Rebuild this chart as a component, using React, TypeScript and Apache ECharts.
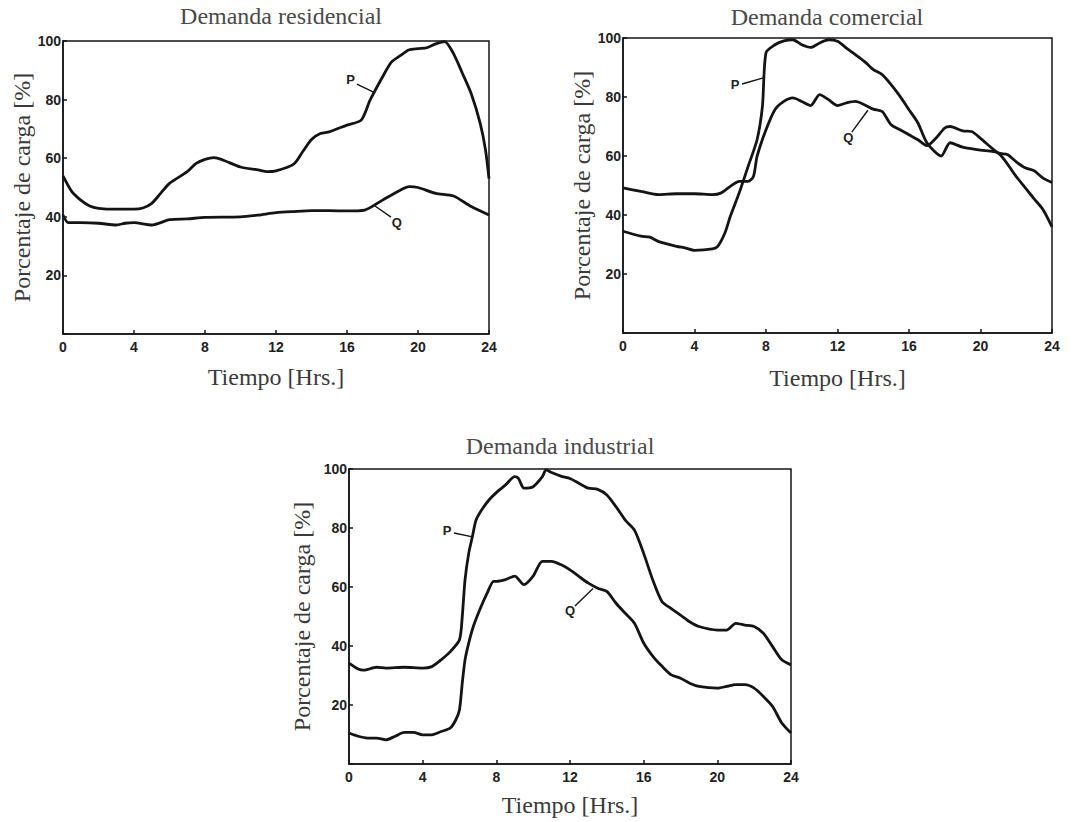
import { useEffect, useRef } from 'react';
import * as echarts from 'echarts';

const panelTitles = ['Demanda residencial', 'Demanda comercial', 'Demanda industrial'];
const xAxisTitle = 'Tiempo [Hrs.]';
const yAxisTitle = 'Porcentaje de carga [%]';
const xTickValues = [0, 4, 8, 12, 16, 20, 24];
const yTickValues = [20, 40, 60, 80, 100];

// Residential
const resPHours = [0, 0.5, 1, 1.5, 2, 3, 4, 4.5, 5, 5.5, 6, 7, 7.5, 8, 8.5, 9, 10, 11, 11.5, 12, 13, 13.5, 14, 14.5, 15, 16, 16.8, 17.3, 18, 18.5, 19, 19.5, 20, 20.5, 21, 21.5, 22, 22.5, 23, 23.5, 23.8, 24];
const resPValues = [54, 48.6, 45.7, 43.7, 42.9, 42.6, 42.6, 43, 44.6, 48, 51.4, 55.4, 58.2, 59.6, 60.2, 59.4, 57, 56, 55.4, 55.7, 58, 62.2, 66.4, 68.4, 69, 71.3, 73, 79.8, 87.7, 92.8, 95, 97, 97.4, 97.7, 99, 99.8, 95.7, 89, 82, 72, 63, 53];
const resQHours = [0, 0.3, 1, 2, 3, 3.5, 4, 5, 6, 7, 8, 10, 11, 12, 13, 14, 15, 16, 17, 18, 19, 19.5, 20, 21, 22, 23, 24];
const resQValues = [40.6, 38, 38, 37.8, 37.2, 37.8, 38, 37.2, 39, 39.3, 39.8, 40, 40.6, 41.4, 41.8, 42.1, 42.1, 42, 42.3, 45.7, 49.1, 50.3, 50, 48, 47.1, 43.5, 40.6];

// Commercial
const comPHours = [0, 1, 1.5, 2, 3, 3.5, 4, 5, 5.3, 5.7, 6, 6.5, 7, 7.5, 7.8, 8, 8.5, 9, 9.5, 10, 10.5, 11, 11.5, 12, 12.5, 13, 13.5, 14, 14.5, 15, 15.5, 16, 16.5, 17, 17.8, 18.3, 19, 20, 21, 22, 23, 23.5, 24];
const comPValues = [34.5, 32.8, 32.5, 31, 29.4, 28.8, 28, 28.5, 29.4, 33.9, 39.5, 47.5, 56.5, 65.5, 76.8, 95, 97.7, 99, 99.4, 97.7, 96.8, 98.3, 99.4, 98.9, 96.6, 94.4, 92.1, 89.3, 87.6, 84.2, 80.2, 75.7, 71.2, 64.5, 60, 64.5, 63, 62, 61, 53, 45.5, 41.8, 36];
const comQHours = [0, 1, 2, 3, 4, 5, 5.5, 6, 6.5, 7, 7.3, 7.5, 8, 8.5, 9, 9.5, 10, 10.5, 11, 11.5, 12, 12.5, 13, 13.5, 14, 14.5, 15, 15.5, 16, 16.5, 17, 17.5, 18, 18.3, 19, 19.5, 20, 21, 21.5, 22, 22.5, 23, 23.5, 24];
const comQValues = [49.2, 48, 46.9, 47.2, 47.2, 46.9, 47.5, 49.7, 51.4, 51.4, 53.1, 59.9, 68.9, 75.7, 78.5, 79.7, 78.5, 77.1, 80.8, 79.1, 77.1, 78, 78.5, 77.4, 75.9, 75.1, 70.6, 68.9, 67.2, 65.5, 63.5, 66, 69.5, 70, 68.5, 68.3, 66, 61, 60.5, 58, 56, 55, 52.5, 51];

// Industrial
const indPHours = [0, 0.5, 0.8, 1.5, 2, 3, 4, 4.5, 5, 5.5, 6, 6.15, 6.3, 6.5, 6.7, 6.9, 7.2, 7.6, 8, 8.5, 9, 9.2, 9.5, 10, 10.5, 10.7, 11, 11.5, 12, 12.5, 13, 13.5, 14, 14.5, 15, 15.5, 16, 16.5, 17, 17.5, 18, 18.5, 19, 20, 20.5, 21, 21.5, 22, 22.5, 23, 23.5, 24];
const indPValues = [34.2, 32.2, 31.8, 32.8, 32.5, 32.8, 32.5, 33, 35.3, 38.1, 42.1, 50, 62.4, 71.4, 77.1, 82.7, 86.1, 89.5, 92, 94.6, 97.4, 96.8, 93.5, 94, 97.4, 99.7, 98.8, 97.6, 96.8, 95.1, 93.5, 93.1, 91.2, 87.2, 82.7, 79.3, 71.4, 62.3, 55, 52.7, 50.5, 48.2, 46.6, 45.4, 45.4, 47.7, 47.1, 46.6, 44.3, 39.8, 35.3, 33.6];
const indQHours = [0, 0.5, 1, 1.5, 2, 2.5, 3, 3.5, 4, 4.5, 5, 5.5, 5.8, 6, 6.15, 6.3, 6.5, 6.75, 7.1, 7.5, 7.85, 8, 8.5, 9, 9.5, 10, 10.5, 11, 11.5, 12, 12.5, 13, 13.5, 14, 14.5, 15, 15.5, 16, 16.5, 17, 17.5, 18, 18.5, 19, 20, 20.5, 21, 21.5, 22, 22.5, 23, 23.5, 24];
const indQValues = [10.5, 9.4, 8.8, 8.8, 8.2, 9.4, 10.7, 10.7, 9.9, 9.9, 11, 12.2, 15, 18.4, 27.4, 35.3, 41, 46.6, 52.3, 57.9, 61.9, 61.9, 62.5, 63.7, 60.8, 63.7, 68.7, 68.7, 67.6, 65.8, 63.5, 61.3, 59.6, 58.5, 54.5, 51.1, 47.7, 41, 36.5, 33.1, 30.2, 29.1, 27.4, 26.3, 25.7, 26.3, 26.9, 26.9, 25.7, 22.9, 19.5, 13.9, 10.5];

// Curve labels (data units)
const curveLabelPanels = [0, 0, 1, 1, 2, 2];
const curveLabelTexts = ['P', 'Q', 'P', 'Q', 'P', 'Q'];
const curveLabelAt = [[16.2, 86.7], [18.8, 38.2], [6.27, 84.4], [12.6, 66.4], [5.32, 79.3], [12.0, 52.2]];
const curveLeaderFrom = [[16.56, 85.3], [18.48, 39.9], [6.66, 84.4], [12.8, 68.1], [5.7, 78.3], [12.27, 53.6]];
const curveLeaderTo = [[17.58, 82.3], [17.58, 43.7], [7.85, 86.5], [13.7, 75.5], [6.71, 77.0], [13.25, 59.5]];

const grids = [
  { left: 63, top: 41, width: 426, height: 293 },
  { left: 623, top: 38, width: 429, height: 295 },
  { left: 349, top: 469, width: 442, height: 295 },
];
const titlePos = [[281, 17], [827, 18], [560, 447]];
const xNameGap = [31, 33, 29];
const yNameGap = [28, 29, 35];

const zip = (h: number[], v: number[]) => h.map((x, i) => [x, v[i]]);
const seriesData = [
  [zip(resPHours, resPValues), zip(resQHours, resQValues)],
  [zip(comPHours, comPValues), zip(comQHours, comQValues)],
  [zip(indPHours, indPValues), zip(indQHours, indQValues)],
];

const SERIF = '"Liberation Serif", "DejaVu Serif", serif';
const SANS = '"Liberation Sans", Arial, sans-serif';
const TITLE = '#4a4a4a';
const TEXT = '#3a3a3a';
const INK = '#141414';
const FS = 24;

export default function App() {
  const ref = useRef<HTMLDivElement>(null);
  useEffect(() => {
    if (!ref.current) return;
    const chart = echarts.init(ref.current, undefined, { renderer: 'svg' });
    const option: any = {
      animation: false,
      backgroundColor: '#ffffff',
      title: panelTitles.map((t, i) => ({
        text: t,
        left: titlePos[i][0],
        top: titlePos[i][1] - FS / 2 - 1,
        textAlign: 'center',
        padding: 0,
        textStyle: { fontFamily: SERIF, fontSize: FS, fontWeight: 'normal', color: TITLE },
      })),
      grid: grids.map((g) => ({ ...g, show: true, borderColor: INK, borderWidth: 1.5, backgroundColor: 'transparent' })),
      xAxis: grids.map((_, i) => ({
        type: 'value',
        gridIndex: i,
        min: xTickValues[0],
        max: xTickValues[xTickValues.length - 1],
        interval: 4,
        name: xAxisTitle,
        nameLocation: 'middle',
        nameGap: xNameGap[i],
        nameTextStyle: { fontFamily: SERIF, fontSize: FS, color: TEXT },
        splitLine: { show: false },
        axisLine: { show: true, lineStyle: { color: INK, width: 1.5 } },
        axisTick: { show: true, inside: true, length: 4, lineStyle: { color: INK, width: 1.5 } },
        axisLabel: { fontFamily: SANS, fontWeight: 'bold', fontSize: 14, color: '#222', margin: 6 },
      })),
      yAxis: grids.map((_, i) => ({
        type: 'value',
        gridIndex: i,
        min: 0,
        max: yTickValues[yTickValues.length - 1],
        interval: 20,
        name: yAxisTitle,
        nameLocation: 'middle',
        nameGap: yNameGap[i],
        nameTextStyle: { fontFamily: SERIF, fontSize: FS, color: TEXT },
        splitLine: { show: false },
        axisLine: { show: true, lineStyle: { color: INK, width: 1.5 } },
        axisTick: { show: true, inside: true, length: 4, lineStyle: { color: INK, width: 1.5 } },
        axisLabel: {
          fontFamily: SANS,
          fontWeight: 'bold',
          fontSize: 14,
          color: '#222',
          margin: 2,
          formatter: (v: number) => (yTickValues.includes(v) ? String(v) : ''),
        },
      })),
      series: seriesData.flatMap((pair, i) =>
        pair.map((d, j) => ({
          type: 'line',
          name: `${panelTitles[i]} ${j === 0 ? 'P' : 'Q'}`,
          xAxisIndex: i,
          yAxisIndex: i,
          data: d,
          smooth: 0.25,
          showSymbol: false,
          lineStyle: { color: INK, width: 2.8 },
        }))
      ),
    };
    chart.setOption(option);

    const graphics: any[] = [];
    curveLabelTexts.forEach((t, k) => {
      const g = curveLabelPanels[k];
      const at = chart.convertToPixel({ gridIndex: g } as any, curveLabelAt[k]) as number[];
      const a = chart.convertToPixel({ gridIndex: g } as any, curveLeaderFrom[k]) as number[];
      const b = chart.convertToPixel({ gridIndex: g } as any, curveLeaderTo[k]) as number[];
      graphics.push({
        type: 'line',
        shape: { x1: a[0], y1: a[1], x2: b[0], y2: b[1] },
        style: { stroke: INK, lineWidth: 1.4 },
      });
      graphics.push({
        type: 'text',
        x: at[0],
        y: at[1],
        style: { text: t, fontFamily: SANS, fontWeight: 'bold', fontSize: 13, fill: '#222', textAlign: 'center', textVerticalAlign: 'middle' },
      });
    });
    chart.setOption({ graphic: graphics });

    return () => chart.dispose();
  }, []);
  return <div ref={ref} style={{ position: 'fixed', left: 0, top: 0, width: 1078, height: 822, background: '#fff' }} />;
}
